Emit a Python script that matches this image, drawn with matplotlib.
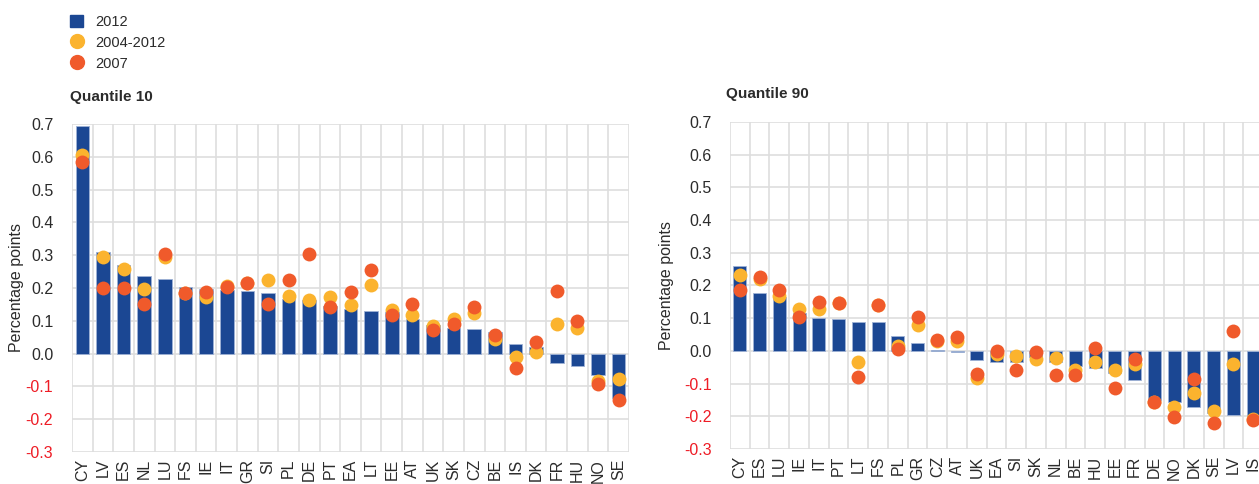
import numpy as np
import matplotlib
matplotlib.use('agg')
import matplotlib.pyplot as plt
from matplotlib.lines import Line2D
from matplotlib.patches import Patch

plt.rcParams['font.family'] = ['Liberation Sans', 'DejaVu Sans']

# Quantile 10
q10_countries = ['CY', 'LV', 'ES', 'NL', 'LU', 'FS', 'IE', 'IT', 'GR', 'SI', 'PL', 'DE', 'PT', 'EA',
                 'LT', 'EE', 'AT', 'UK', 'SK', 'CZ', 'BE', 'IS', 'DK', 'FR', 'HU', 'NO', 'SE']
q10_2012 = [0.695, 0.31, 0.269, 0.238, 0.227, 0.203, 0.198, 0.195, 0.19, 0.185, 0.166, 0.162, 0.144, 0.136,
            0.130, 0.127, 0.107, 0.087, 0.079, 0.076, 0.065, 0.028, 0.020, -0.030, -0.037, -0.065, -0.135]
q10_0412 = [0.605, 0.296, 0.257, 0.197, 0.293, 0.185, 0.174, 0.206, 0.216, 0.224, 0.175, 0.163, 0.174, 0.149,
            0.209, 0.132, 0.118, 0.084, 0.105, 0.123, 0.046, -0.009, 0.004, 0.091, 0.079, -0.085, -0.077]
q10_2007 = [0.585, 0.200, 0.199, 0.150, 0.304, 0.186, 0.188, 0.203, 0.215, 0.152, 0.223, 0.304, 0.141, 0.187,
            0.254, 0.117, 0.150, 0.071, 0.089, 0.142, 0.057, -0.045, 0.036, 0.192, 0.099, -0.093, -0.141]

# Quantile 90
q90_countries = ['CY', 'ES', 'LU', 'IE', 'IT', 'PT', 'LT', 'FS', 'PL', 'GR', 'CZ', 'AT', 'UK', 'EA',
                 'SI', 'SK', 'NL', 'BE', 'HU', 'EE', 'FR', 'DE', 'NO', 'DK', 'SE', 'LV', 'IS']
q90_2012 = [0.261, 0.178, 0.165, 0.115, 0.100, 0.097, 0.088, 0.088, 0.045, 0.025, 0.002, -0.002, -0.029, -0.035,
            -0.035, -0.020, -0.035, -0.047, -0.051, -0.067, -0.088, -0.151, -0.157, -0.173, -0.19, -0.195, -0.2]
q90_0412 = [0.232, 0.221, 0.169, 0.129, 0.127, 0.145, -0.035, 0.140, 0.015, 0.078, 0.029, 0.031, -0.083, -0.008,
            -0.016, -0.026, -0.021, -0.057, -0.034, -0.057, -0.039, -0.155, -0.171, -0.130, -0.184, -0.041, -0.207]
q90_2007 = [0.185, 0.226, 0.186, 0.104, 0.151, 0.148, -0.080, 0.140, 0.005, 0.103, 0.034, 0.041, -0.070, 0.000,
            -0.057, -0.002, -0.074, -0.074, 0.008, -0.113, -0.026, -0.157, -0.201, -0.085, -0.222, 0.062, -0.211]

yticks = [-0.3, -0.2, -0.1, 0.0, 0.1, 0.2, 0.3, 0.4, 0.5, 0.6, 0.7]

NAVY = '#1b4793'
YELLOW = '#fbb32e'
RED = '#f05a2b'
GRID = '#dedede'
TXT = '#2b2b2b'
NEG = '#ee1c25'

W, H = 1259, 484
fig = plt.figure(figsize=(W / 100, H / 100), dpi=100)


def panel(rect, title, title_xy, countries, v2012, v0412, v2007, ypad, lpad):
    ax = fig.add_axes(rect)
    x = np.arange(len(countries))
    ax.bar(x, v2012, width=0.66, color=NAVY, edgecolor='#9fb2d6', linewidth=0.6, zorder=2)
    ax.scatter(x, v0412, s=100, color=YELLOW, zorder=3, linewidths=0)
    ax.scatter(x, v2007, s=100, color=RED, zorder=4, linewidths=0)
    ax.set_xlim(-0.5, len(countries) - 0.5)
    ax.set_ylim(-0.3, 0.7)
    ax.set_yticks(yticks)
    ax.set_yticklabels(['%.1f' % t for t in yticks])
    ax.set_xticks(x)
    ax.set_xticklabels(countries, rotation=90)
    ax.grid(False)
    for t in yticks:
        ax.axhline(t, color=GRID, lw=1.2, zorder=0)
    for b in np.arange(len(countries) + 1) - 0.5:
        ax.axvline(b, color=GRID, lw=1.2, zorder=0)
    for s in ax.spines.values():
        s.set_visible(False)
    ax.tick_params(axis='both', which='both', length=0, labelsize=11.5, colors=TXT)
    ax.tick_params(axis='y', pad=ypad)
    ax.tick_params(axis='x', pad=5)
    for lab, t in zip(ax.get_yticklabels(), yticks):
        lab.set_color(NEG if t < 0 else TXT)
    ax.set_ylabel('Percentage points', fontsize=11.5, color=TXT, labelpad=lpad)
    fig.text(title_xy[0] / W, 1 - title_xy[1] / H, title, fontsize=11, fontweight='bold',
             color=TXT, va='center', ha='left')
    return ax


ax1 = panel([72 / W, 1 - 452 / H, (629 - 72) / W, (452 - 124) / H], 'Quantile 10', (70, 97),
            q10_countries, q10_2012, q10_0412, q10_2007, 13.5, 1.5)
ax2 = panel([730 / W, 1 - 449 / H, (1263 - 730) / W, (449 - 122) / H], 'Quantile 90', (726, 94),
            q90_countries, q90_2012, q90_0412, q90_2007, 13, 7.5)

handles = [Patch(facecolor=NAVY, edgecolor=NAVY),
           Line2D([], [], marker='o', linestyle='', markersize=10, color=YELLOW),
           Line2D([], [], marker='o', linestyle='', markersize=10, color=RED)]
fig.legend(handles, ['2012', '2004-2012', '2007'], loc='upper left', bbox_to_anchor=(57 / W, 1 - 2 / H),
           frameon=False, fontsize=10.5, handlelength=0.9, handleheight=0.9, handletextpad=0.8,
           labelspacing=0.45, labelcolor=TXT)

fig.savefig('out.png', dpi=100)
